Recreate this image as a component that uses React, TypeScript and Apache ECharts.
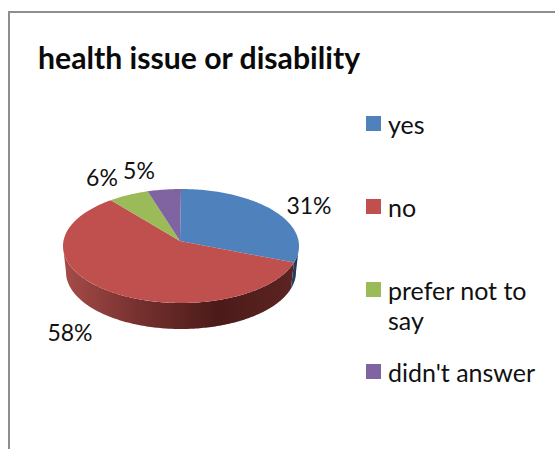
import React, { useEffect, useRef } from "react";
import * as echarts from "echarts";

const titleText = "health issue or disability";
const categories = ["yes", "no", "prefer not to say", "didn't answer"];
const shares = [31, 58, 6, 5];
const topColors = ["#4f81bd", "#c0504d", "#9bbb59", "#8064a2"];
const wallStops = [
  ["#25446b", "#1c3454"],
  ["#a64c49", "#74302e", "#4b1b19", "#5c2422"],
  ["#6f8a3c", "#4e6329"],
  ["#5a4574", "#463559"],
];
const legendFirstLines = ["yes", "no", "prefer not to", "didn't answer"];
const legendTops = [111, 194, 277, 359];
const labelAnchors = [
  [309, 205],
  [70, 332],
  [102, 177],
  [139, 170],
];

const FONT = "Lato, Carlito, sans-serif";
const apex = { x: 180, y: 241 };
const rim = { x: 181, y: 246, rx: 118, ry: 57 };
const base = { x: 181, y: 272, rx: 115, ry: 57 };

// The near side of a tilted disc takes up more of the rim than the far side.
const foreshorten = (deg: number) => deg - 5 * Math.sin((deg * Math.PI) / 180);

const onEllipse = (e: typeof rim, deg: number) => {
  const a = (deg * Math.PI) / 180;
  return [e.x + e.rx * Math.sin(a), e.y - e.ry * Math.cos(a)];
};

const arcPoints = (e: typeof rim, from: number, to: number) => {
  const steps = Math.max(2, Math.ceil(Math.abs(to - from)));
  const pts: number[][] = [];
  for (let i = 0; i <= steps; i++) pts.push(onEllipse(e, from + ((to - from) * i) / steps));
  return pts;
};

const total = shares.reduce((s, v) => s + v, 0);

// One slice of the tilted pie: its top face, its front wall and its label.
const renderSlice = (index: number) => (_params: unknown, api: any) => {
  const before = shares.slice(0, index).reduce((s, v) => s + v, 0);
  const start = foreshorten((before / total) * 360);
  const end = foreshorten(((before + api.value(0)) / total) * 360);
  const children: any[] = [];

  const wallFrom = Math.max(start, 90);
  const wallTo = Math.min(end, 270);
  if (wallTo > wallFrom) {
    const stops = wallStops[index];
    children.push({
      type: "polygon",
      shape: {
        points: [...arcPoints(rim, wallFrom, wallTo), ...arcPoints(base, wallTo, wallFrom)],
      },
      style: {
        fill: new echarts.graphic.LinearGradient(
          0,
          0,
          1,
          0,
          stops.map((color, i) => ({ offset: i / (stops.length - 1), color }))
        ),
      },
    });
  }

  children.push({
    type: "polygon",
    shape: { points: [[apex.x, apex.y], ...arcPoints(rim, start, end)] },
    style: { fill: topColors[index] },
  });

  children.push({
    type: "text",
    x: labelAnchors[index][0],
    y: labelAnchors[index][1],
    style: {
      text: `${api.value(0)}%`,
      font: `23px ${FONT}`,
      fill: "#111",
      align: "center",
      verticalAlign: "middle",
    },
  });

  return { type: "group", children };
};

export default function App() {
  const ref = useRef<HTMLDivElement>(null);

  useEffect(() => {
    if (!ref.current) return;
    const chart = echarts.init(ref.current, undefined, { renderer: "svg" });
    chart.setOption({
      animation: false,
      backgroundColor: "#fff",
      title: {
        text: titleText,
        left: 38,
        top: 42,
        padding: 0,
        textStyle: { fontFamily: FONT, fontSize: 30.2, fontWeight: "bold", color: "#0a0a0a" },
      },
      legend: categories.map((name, i) => ({
        data: [{ name, icon: "rect" }],
        orient: "vertical",
        left: 366,
        top: legendTops[i],
        padding: 0,
        itemWidth: 15,
        itemHeight: 15,
        selectedMode: false,
        formatter: () => legendFirstLines[i],
        textStyle: {
          fontFamily: FONT,
          fontSize: 25,
          color: "#111",
          padding: [0, 0, 0, 2],
        },
      })),
      graphic: [
        {
          type: "polyline",
          shape: { points: [[9, 449], [9, 12], [555, 12]] },
          style: { stroke: "#8e8e8e", lineWidth: 2, fill: "none" },
        },
        {
          type: "text",
          x: 388,
          y: 320,
          style: {
            text: "say",
            font: `25px ${FONT}`,
            fill: "#111",
            verticalAlign: "middle",
          },
        },
      ],
      series: categories.map((name, i) => ({
        type: "custom",
        name,
        coordinateSystem: "none",
        itemStyle: { color: topColors[i] },
        data: [shares[i]],
        renderItem: renderSlice(i),
      })),
    });
    return () => chart.dispose();
  }, []);

  return (
    <div
      ref={ref}
      style={{ position: "fixed", left: 0, top: 0, width: 555, height: 449 }}
    />
  );
}
